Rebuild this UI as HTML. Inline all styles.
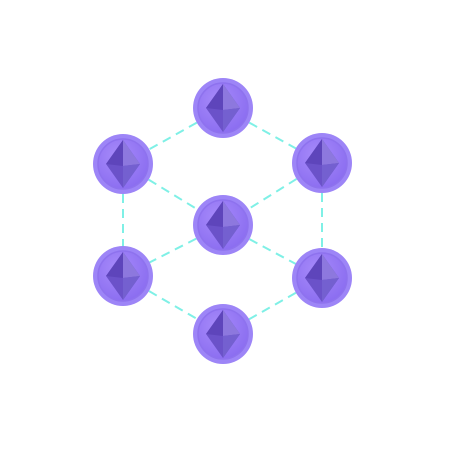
<!DOCTYPE html>
<html><head><meta charset="utf-8"><style>
html,body{margin:0;padding:0;background:#fff;width:450px;height:450px;overflow:hidden}
</style></head><body>
<svg id="s" width="450" height="450">
<defs>
<radialGradient id="cg" cx="40%" cy="35%" r="70%">
<stop offset="0" stop-color="#a78bfa"/><stop offset="1" stop-color="#8a6cf0"/>
</radialGradient>
</defs>
<g id="lines"></g><g id="coins"></g>
</svg>
<script>
const nodeX=[223,123,322,223,123,322,223];
const nodeY=[108,164,163,225,276,278,334];
const edgeFrom=[0,0,1,2,1,2,3,3,4,5];
const edgeTo=[1,2,3,3,4,5,4,5,6,6];
const NS="http://www.w3.org/2000/svg";
const lg=document.getElementById('lines'),cg=document.getElementById('coins');
edgeFrom.forEach((a,i)=>{const b=edgeTo[i];
 const l=document.createElementNS(NS,'line');
 l.setAttribute('x1',nodeX[a]);l.setAttribute('y1',nodeY[a]);
 l.setAttribute('x2',nodeX[b]);l.setAttribute('y2',nodeY[b]);
 l.setAttribute('stroke','#7ff0e6');l.setAttribute('stroke-width','2');
 l.setAttribute('stroke-dasharray','9 6');
 
 
 lg.appendChild(l);});
nodeX.forEach((x,i)=>{const y=nodeY[i];
 const g=document.createElementNS(NS,'g');
 
 
 g.innerHTML=`<circle cx="${x}" cy="${y}" r="30" fill="#9d85f7"/>
<circle cx="${x}" cy="${y}" r="25" fill="url(#cg)" stroke="#8e72ee" stroke-width="1.5"/>
<polygon points="${x},${y-24} ${x+17},${y} ${x},${y+24} ${x-17},${y}" fill="#6b52c9"/>
<polygon points="${x},${y-24} ${x+17},${y} ${x},${y+2}" fill="#8d78de"/>
<polygon points="${x},${y-24} ${x-17},${y} ${x},${y+2}" fill="#5e45bb"/>
<polygon points="${x},${y+2} ${x+17},${y} ${x},${y+24}" fill="#7460d0"/>`;
 cg.appendChild(g);});
</script>
</body></html>
